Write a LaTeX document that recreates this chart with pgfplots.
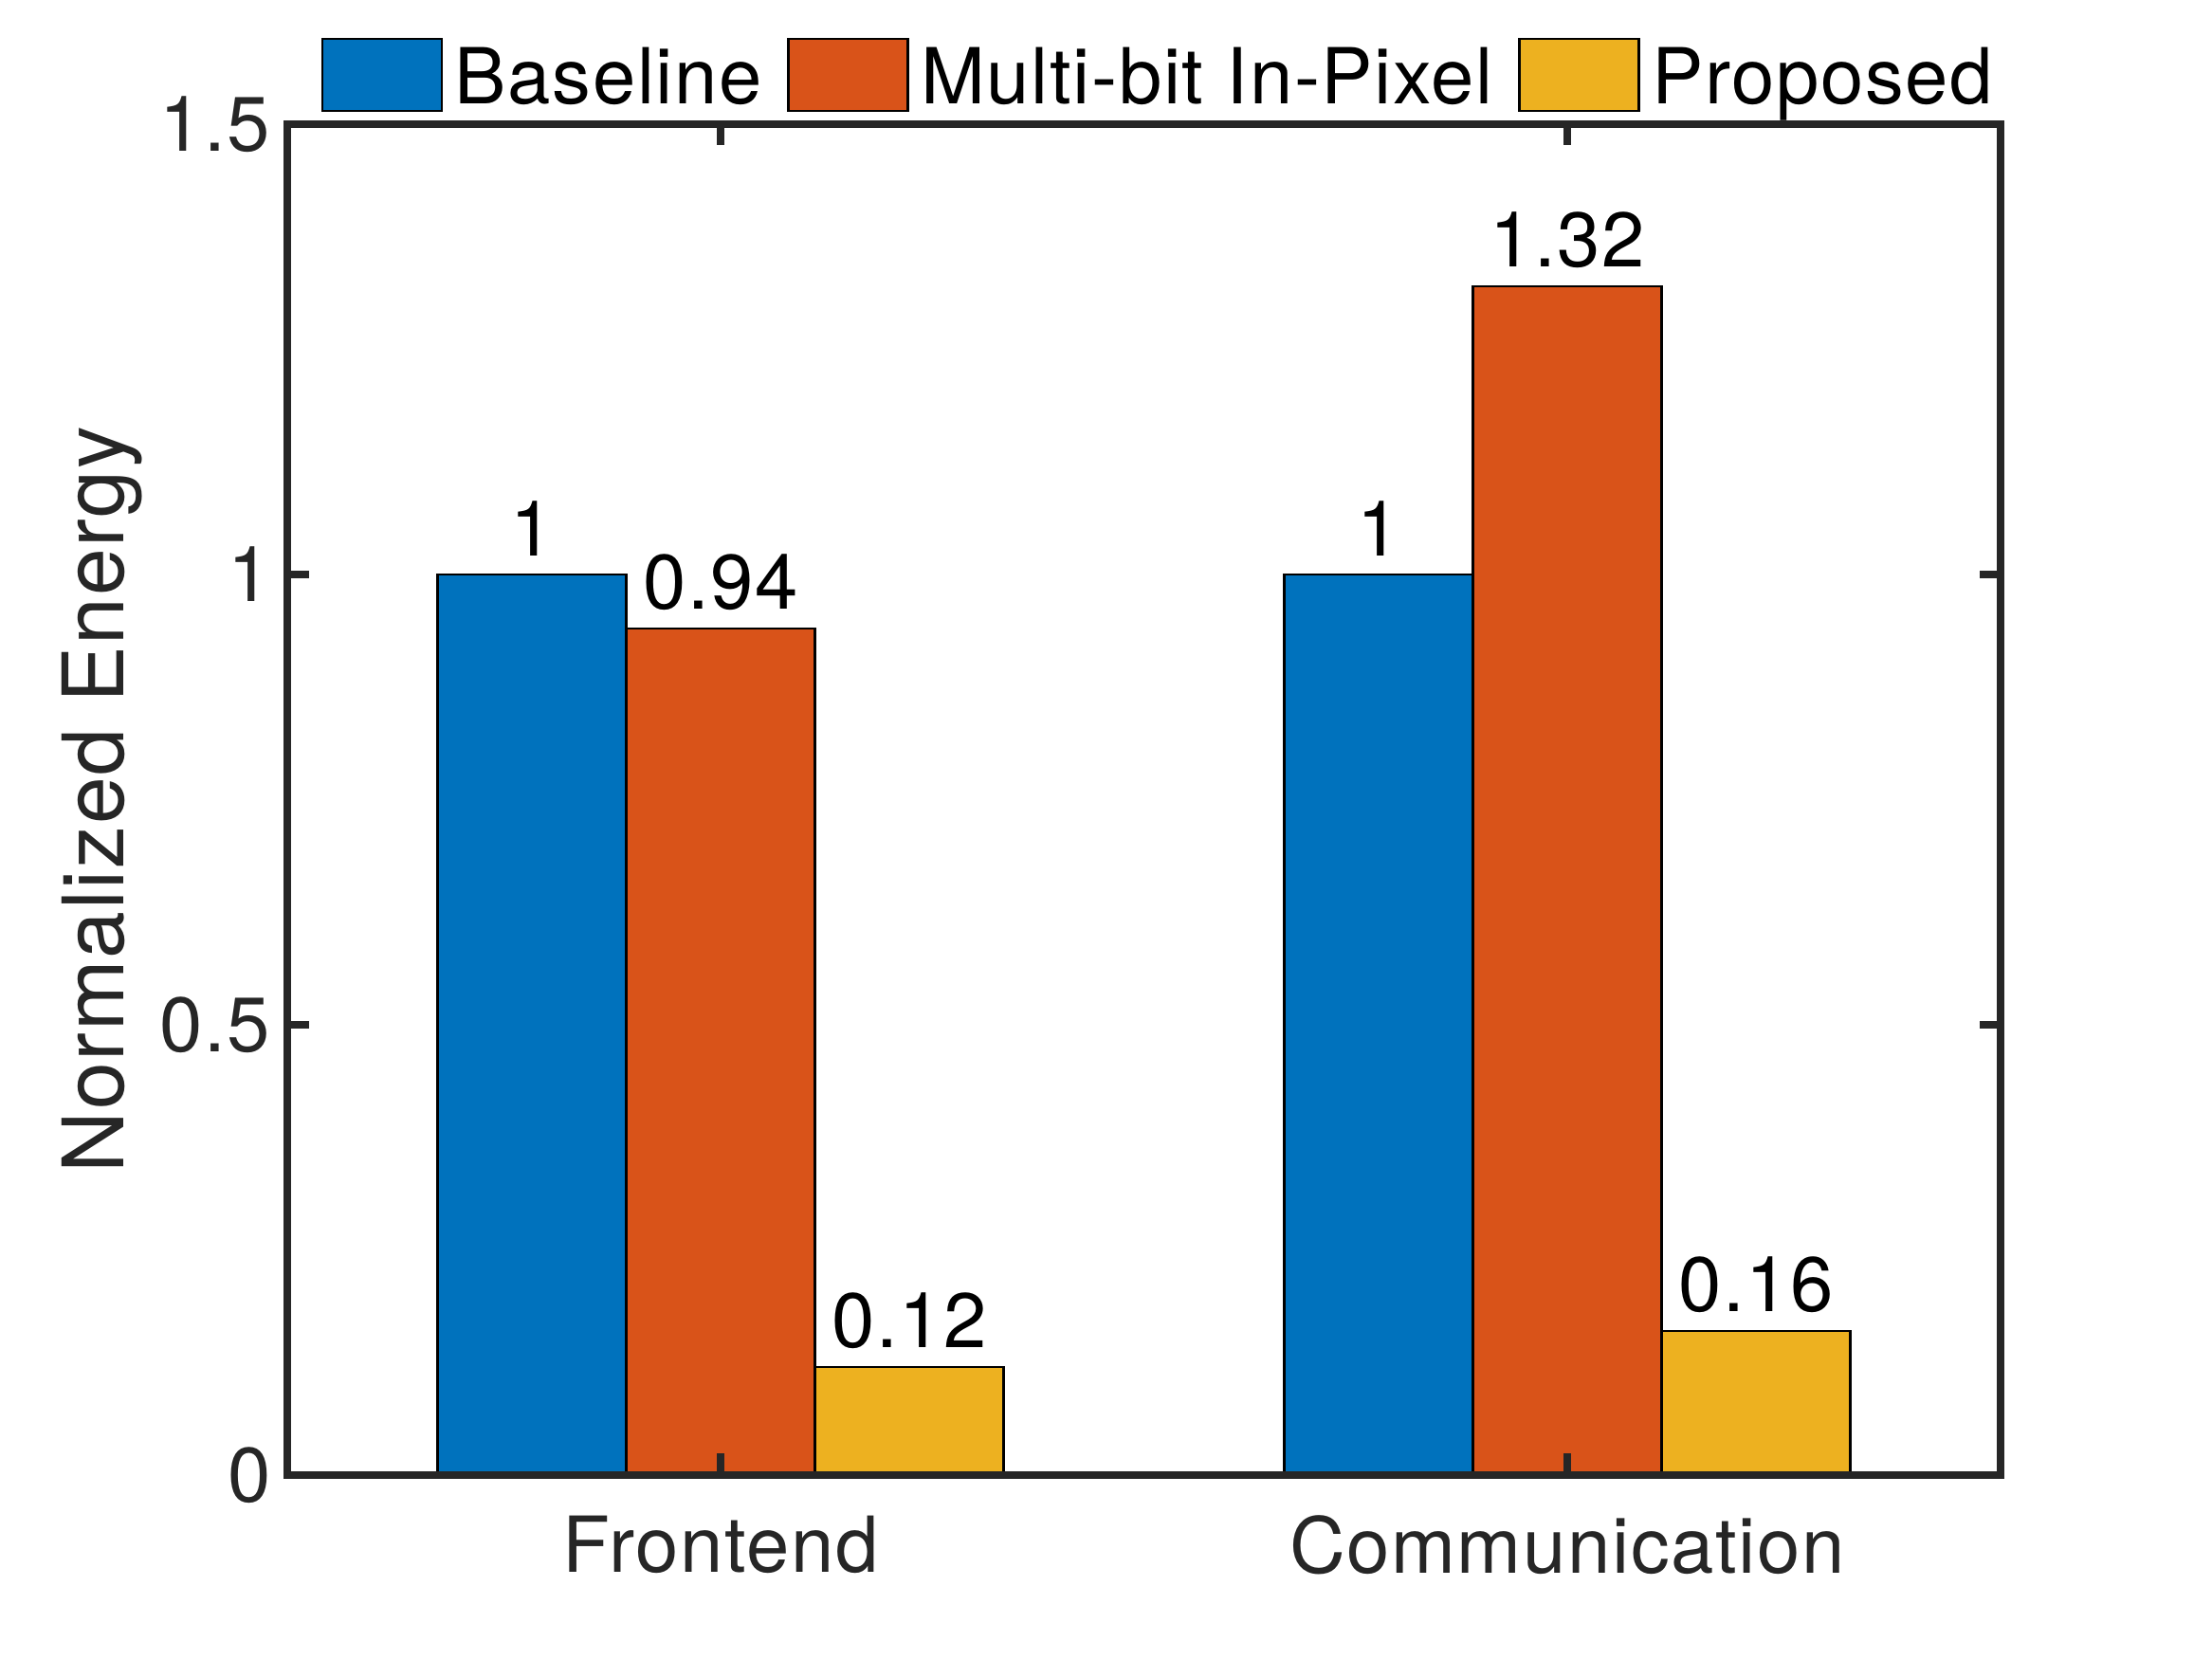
\documentclass[border=0pt]{standalone}
\usepackage{fontspec}
\setmainfont{TeX Gyre Heros}[LetterSpace=2]
\usepackage{pgfplots}
\pgfplotsset{compat=1.18}
\definecolor{mblue}{RGB}{0,114,189}
\definecolor{morange}{RGB}{217,83,25}
\definecolor{myellow}{RGB}{237,177,32}
\definecolor{axgray}{RGB}{38,38,38}
\newcommand\tfont{\fontsize{16.3}{19}\selectfont}
\newcommand\lfont{\fontsize{17.9}{22}\selectfont}
\pgfplotsset{mylegend/.style={legend image code/.code={\draw[##1,line width=0.5pt] (0pt,-6.8pt) rectangle (25.2pt,8.4pt);}}}
\begin{document}
\begin{tikzpicture}
\useasboundingbox (0,0) rectangle (466.6pt,350pt);
\begin{axis}[
  at={(60.6pt,38.8pt)}, anchor=south west,
  scale only axis, width=361.4pt, height=285pt,
  xmin=0.488, xmax=2.512, ymin=0, ymax=1.5,
  ybar=0pt, bar width=0.223,
  xtick={1,2}, xticklabels={Frontend,Communication},
  ytick={0,0.5,1,1.5},
  tick align=inside, major tick length=4.5pt,
  axis line style={axgray, line width=1.6pt, line cap=rect},
  tick style={axgray, line width=1.6pt},
  axis on top,
  /pgf/number format/assume math mode=true,
  xticklabel style={font=\tfont, text=axgray, yshift=-5pt},
  yticklabel style={font=\tfont, text=axgray},
  ylabel={Normalized Energy},
  ylabel style={font=\lfont, text=axgray, at={(axis description cs:-0.0957,0.5)}, anchor=base},
  nodes near coords, point meta=explicit symbolic,
  every node near coord/.append style={font=\tfont, text=black, inner sep=0pt, yshift=3.6pt},
  legend columns=3, legend cell align=left,
  legend style={at={(axis description cs:0.0199,1)}, anchor=south west, yshift=2.5pt,
    draw=none, fill=none, inner sep=0pt, outer sep=0pt, font=\tfont, text=black,
    nodes={inner sep=0pt},
    /tikz/every odd column/.append style={column sep=2.5pt},
    /tikz/every even column/.append style={column sep=5.3pt}},
]
\addplot[fill=mblue, draw=black, line width=0.5pt, bar shift=-0.223, mylegend]
  coordinates {(1,1)[1] (2,1)[1]};
\addplot[fill=morange, draw=black, line width=0.5pt, bar shift=0, mylegend]
  coordinates {(1,0.94)[0.94] (2,1.32)[1.32]};
\addplot[fill=myellow, draw=black, line width=0.5pt, bar shift=0.223, mylegend]
  coordinates {(1,0.12)[0.12] (2,0.16)[0.16]};
\legend{Baseline, Multi-bit In-Pixel, Proposed}
\end{axis}
\end{tikzpicture}
\end{document}
